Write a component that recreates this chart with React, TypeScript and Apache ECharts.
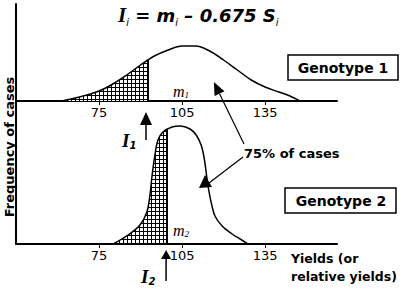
import React, { useEffect, useRef } from "react";
import * as echarts from "echarts";

// ---- data ----
const xTickLabels = [75, 105, 135];
const geno1X = [61.6, 68, 75, 80, 85, 90, 95, 100, 105, 110, 115, 120, 125, 130, 135, 140, 144, 147.6];
const geno1Y = [0, 4, 10, 17, 26, 36, 45, 51, 55, 55, 50, 41, 31, 21, 14, 9, 5, 0];
const geno2X = [80.1, 85.5, 89.8, 92.3, 93.4, 94.2, 95.2, 96.3, 98.1, 101.4, 104.3, 107.9, 110.1, 111.9, 113.0, 113.7, 114.4, 115.5, 116.9, 119.5, 123.1, 126.0, 128.8];
const geno2Y = [0, 9, 19, 32, 49, 69, 89, 104, 112, 117, 118, 115, 109, 99, 86, 72, 58, 42, 28, 18, 10, 5, 0];
const thresholdI = [92.7, 99.6];
const thresholdTop = [41, 114];
const meanM = [105, 105];

const X_MIN = 45;
const X_MAX = 161;
const GRID_LEFT = 16;
const GRID_TOP = 4;
const GRID_W = 321;
const H_TOP = 97;
const H_BOT = 240;

const pair = (xs: number[], ys: number[]) => xs.map((x, i) => [x, ys[i]]);

function arrow(from: number[], tip: number[], headLen: number, headHalf: number, lw: number) {
  const dx = tip[0] - from[0];
  const dy = tip[1] - from[1];
  const L = Math.hypot(dx, dy);
  const ux = dx / L, uy = dy / L;
  const bx = tip[0] - ux * headLen, by = tip[1] - uy * headLen;
  const px = -uy, py = ux;
  return [
    { type: "line", shape: { x1: from[0], y1: from[1], x2: bx, y2: by }, style: { stroke: "#000", lineWidth: lw }, z: 10 },
    {
      type: "polygon",
      shape: { points: [[tip[0], tip[1]], [bx + px * headHalf, by + py * headHalf], [bx - px * headHalf, by - py * headHalf]] },
      style: { fill: "#000" },
      z: 10,
    },
  ];
}

export default function App() {
  const ref = useRef<HTMLDivElement>(null);
  useEffect(() => {
    if (!ref.current) return;
    const chart = echarts.init(ref.current, null, { renderer: "svg" });
    const g1 = pair(geno1X, geno1Y);
    const g2 = pair(geno2X, geno2Y);
    const wFor = (I: number) => (GRID_W * (I - X_MIN)) / (X_MAX - X_MIN);

    const mainX = (gridIndex: number) => ({
      type: "value",
      gridIndex,
      min: X_MIN,
      max: X_MAX,
      position: "bottom",
      splitLine: { show: false },
      axisLine: { show: true, onZero: false, lineStyle: { color: "#000", width: 2 } },
      axisTick: { show: true, customValues: xTickLabels, length: 4, lineStyle: { color: "#000", width: 1 } },
      axisLabel: { show: true, customValues: xTickLabels, margin: 5, color: "#000", fontFamily: "DejaVu Sans", fontSize: 13 },
    });
    const hiddenX = (gridIndex: number, max: number) => ({
      type: "value", gridIndex, min: X_MIN, max, show: false, splitLine: { show: false },
    });
    const hiddenY = (gridIndex: number, max: number) => ({
      type: "value", gridIndex, min: 0, max, show: false, splitLine: { show: false },
    });

    const decal = { symbol: "rect", symbolSize: 1, color: "#fff", dashArrayX: [3, 1], dashArrayY: [3, 1], rotation: 0 };
    const SMOOTH = 0.35;

    const hatch = (xi: number, data: number[][]) => ({
      type: "line", xAxisIndex: xi, yAxisIndex: xi, data, smooth: SMOOTH,
      symbol: "none", clip: true, silent: true, z: 1,
      lineStyle: { width: 0 },
      itemStyle: { color: "#000", decal },
      areaStyle: { color: "#000", opacity: 1 },
    });
    const curve = (xi: number, data: number[][], I: number, top: number) => ({
      type: "line", xAxisIndex: xi, yAxisIndex: xi, data, smooth: SMOOTH,
      symbol: "none", z: 3, silent: true,
      lineStyle: { color: "#000", width: 1.5 },
      markLine: {
        silent: true, symbol: "none", label: { show: false },
        lineStyle: { color: "#000", width: 2, type: "solid" },
        data: [[{ coord: [I, 0] }, { coord: [I, top] }]],
      },
    });

    chart.setOption({
      animation: false,
      backgroundColor: "#fff",
      grid: [
        { left: GRID_LEFT, top: GRID_TOP, width: GRID_W, height: H_TOP },
        { left: GRID_LEFT, top: GRID_TOP, width: GRID_W, height: H_BOT },
        { left: GRID_LEFT, top: GRID_TOP, width: wFor(thresholdI[0]), height: H_TOP },
        { left: GRID_LEFT, top: GRID_TOP, width: wFor(thresholdI[1]), height: H_BOT },
      ],
      xAxis: [mainX(0), mainX(1), hiddenX(2, thresholdI[0]), hiddenX(3, thresholdI[1])],
      yAxis: [
        hiddenY(0, H_TOP),
        {
          type: "value", gridIndex: 1, min: 0, max: H_BOT,
          axisLine: { show: true, lineStyle: { color: "#000", width: 2 } },
          axisTick: { show: false }, axisLabel: { show: false }, splitLine: { show: false },
        },
        hiddenY(2, H_TOP),
        hiddenY(3, H_BOT),
      ],
      series: [
        hatch(2, g1),
        hatch(3, g2),
        curve(0, g1, thresholdI[0], thresholdTop[0]),
        curve(1, g2, thresholdI[1], thresholdTop[1]),
      ],
    });

    const p = (gi: number, pt: number[]) => chart.convertToPixel({ gridIndex: gi } as any, pt) as number[];
    const i1 = p(0, [thresholdI[0], 0]);
    const i2 = p(1, [thresholdI[1], 0]);
    const m1 = p(0, [meanM[0], 0]);
    const m2 = p(1, [meanM[1], 0]);
    const tipTop = p(0, [116.5, 19]);
    const tipBot = p(1, [113.3, 69]);

    const bold = "DejaVu Sans";
    const graphics: any[] = [
      // title
      {
        type: "text", z: 10,
        style: {
          x: 118, y: 3,
          text: "{a|I}{s|i}{b| = m}{s|i}{b| – 0.675 S}{s|i}",
          fill: "#000",
          rich: {
            a: { fontFamily: "Liberation Serif", fontStyle: "italic", fontWeight: "bold", fontSize: 21, lineHeight: 24 },
            b: { fontFamily: bold, fontStyle: "italic", fontWeight: "bold", fontSize: 18, lineHeight: 24 },
            s: { fontFamily: bold, fontStyle: "italic", fontSize: 10, lineHeight: 12, verticalAlign: "bottom" },
          },
        },
      },
      // y axis title
      {
        type: "text", z: 10, x: 9, y: 147, rotation: Math.PI / 2,
        style: { text: "Frequency of cases", fontFamily: bold, fontWeight: "bold", fontSize: 13, fill: "#000", align: "center", verticalAlign: "middle" },
      },
      // genotype boxes
      { type: "rect", z: 10, shape: { x: 288, y: 55, width: 110, height: 25 }, style: { fill: "#fff", stroke: "#000", lineWidth: 1.5 } },
      { type: "text", z: 11, style: { x: 343, y: 68, text: "Genotype 1", fontFamily: bold, fontWeight: "bold", fontSize: 14, fill: "#000", align: "center", verticalAlign: "middle" } },
      { type: "rect", z: 10, shape: { x: 285, y: 188, width: 111, height: 25 }, style: { fill: "#fff", stroke: "#000", lineWidth: 1.5 } },
      { type: "text", z: 11, style: { x: 341, y: 201, text: "Genotype 2", fontFamily: bold, fontWeight: "bold", fontSize: 14, fill: "#000", align: "center", verticalAlign: "middle" } },
      // 75% of cases
      { type: "text", z: 10, style: { x: 244, y: 153, text: "75% of cases", fontFamily: bold, fontWeight: "bold", fontSize: 13, fill: "#000", verticalAlign: "middle" } },
      // x axis title
      { type: "text", z: 10, style: { x: 291, y: 258, text: "Yields (or", fontFamily: bold, fontWeight: "bold", fontSize: 12.5, fill: "#000", verticalAlign: "middle" } },
      { type: "text", z: 10, style: { x: 291, y: 276, text: "relative yields)", fontFamily: bold, fontWeight: "bold", fontSize: 12.5, fill: "#000", verticalAlign: "middle" } },
      // I labels
      {
        type: "text", z: 10,
        style: {
          x: i1[0] - 26, y: i1[1] + 29, text: "{a|I}{s|1}", fill: "#000",
          rich: {
            a: { fontFamily: "Liberation Serif", fontStyle: "italic", fontWeight: "bold", fontSize: 19, lineHeight: 20 },
            s: { fontFamily: bold, fontStyle: "italic", fontWeight: "bold", fontSize: 10, lineHeight: 11, verticalAlign: "bottom" },
          },
        },
      },
      {
        type: "text", z: 10,
        style: {
          x: i2[0] - 26, y: i2[1] + 22, text: "{a|I}{s|2}", fill: "#000",
          rich: {
            a: { fontFamily: "Liberation Serif", fontStyle: "italic", fontWeight: "bold", fontSize: 19, lineHeight: 20 },
            s: { fontFamily: bold, fontStyle: "italic", fontWeight: "bold", fontSize: 10, lineHeight: 11, verticalAlign: "bottom" },
          },
        },
      },
      // m labels
      {
        type: "text", z: 10,
        style: {
          x: m1[0] - 9, y: m1[1] - 18, text: "{a|m}{s|1}", fill: "#000",
          rich: {
            a: { fontFamily: "Liberation Serif", fontStyle: "italic", fontSize: 16, lineHeight: 16 },
            s: { fontFamily: "Liberation Serif", fontStyle: "italic", fontSize: 9, lineHeight: 9, verticalAlign: "bottom" },
          },
        },
      },
      {
        type: "text", z: 10,
        style: {
          x: m2[0] - 9, y: m2[1] - 22, text: "{a|m}{s|2}", fill: "#000",
          rich: {
            a: { fontFamily: "Liberation Serif", fontStyle: "italic", fontSize: 16, lineHeight: 16 },
            s: { fontFamily: "Liberation Serif", fontStyle: "italic", fontSize: 9, lineHeight: 9, verticalAlign: "bottom" },
          },
        },
      },
      ...arrow([i1[0] - 2, i1[1] + 39], [i1[0] - 2, i1[1] + 11], 13, 6, 1.5),
      ...arrow([i2[0] - 1, i2[1] + 37], [i2[0] - 1, i2[1] + 6], 9, 5, 1.5),
      ...arrow([244, 144], tipTop, 13, 5.5, 1.2),
      { type: "line", z: 10, shape: { x1: 243, y1: 157, x2: tipBot[0] + 4, y2: tipBot[1] + 8 }, style: { stroke: "#000", lineWidth: 1.2 } },
      {
        type: "polygon", z: 10,
        shape: { points: [[tipBot[0], tipBot[1]], [tipBot[0] - 6, tipBot[1] + 13], [tipBot[0] + 7, tipBot[1] + 12]] },
        style: { fill: "#000" },
      },
    ];
    chart.setOption({ graphic: graphics });
    return () => chart.dispose();
  }, []);
  return <div ref={ref} style={{ position: "absolute", left: 0, top: 0, width: 400, height: 289 }} />;
}
